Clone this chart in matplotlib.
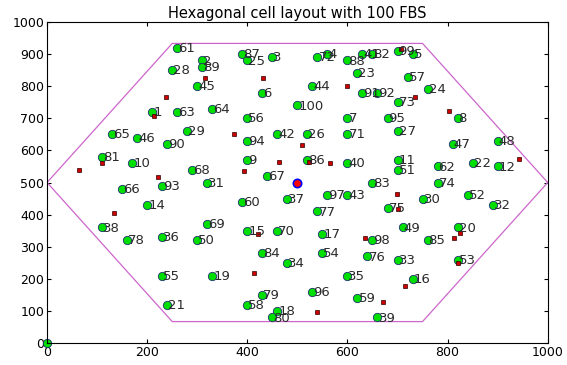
import numpy as np
import matplotlib
matplotlib.use('Agg')
import matplotlib.pyplot as plt

# femto base stations (green)
fbs_id = [61, 87, 25, 3, 72, 4, 88, 41, 82, 99, 5, 2, 89, 28, 23, 57, 45, 6, 44, 91,
          92, 24, 73, 100, 1, 63, 64, 56, 7, 95, 8, 29, 27, 65, 46, 42, 26, 71, 94, 48,
          90, 47, 81, 9, 86, 11, 10, 40, 68, 51, 62, 22, 12, 31, 67, 93, 83, 74, 66, 97,
          43, 37, 60, 30, 52, 14, 77, 75, 32, 69, 38, 49, 20, 15, 70, 17, 36, 78, 50, 98,
          85, 84, 54, 76, 33, 53, 34, 55, 19, 35, 16, 96, 79, 59, 21, 58, 18, 80, 39]
fbs_x = [260, 390, 400, 450, 540, 560, 600, 630, 650, 700, 730, 310, 310, 250, 620, 720, 300, 430, 530, 630,
         660, 760, 700, 500, 210, 260, 330, 400, 600, 680, 820, 280, 700, 130, 180, 460, 520, 600, 400, 900,
         240, 810, 110, 400, 520, 700, 170, 600, 290, 700, 780, 850, 900, 320, 440, 230, 650, 780, 150, 560,
         600, 480, 390, 750, 840, 200, 540, 680, 890, 320, 110, 710, 820, 400, 460, 550, 230, 160, 300, 650,
         760, 430, 550, 640, 700, 820, 480, 230, 330, 600, 730, 530, 430, 620, 240, 400, 460, 450, 660]
fbs_y = [920, 900, 880, 890, 890, 900, 880, 900, 900, 910, 900, 880, 860, 850, 840, 830, 800, 780, 800, 780,
         780, 790, 750, 740, 720, 720, 730, 700, 700, 700, 700, 660, 660, 650, 640, 650, 650, 650, 630, 630,
         620, 620, 580, 570, 570, 570, 560, 560, 540, 540, 550, 560, 550, 500, 520, 490, 500, 500, 480, 460,
         460, 450, 440, 450, 460, 430, 410, 420, 430, 370, 360, 360, 360, 350, 350, 340, 330, 320, 320, 320,
         320, 280, 280, 270, 260, 260, 250, 210, 210, 210, 200, 160, 150, 140, 120, 120, 100, 80, 80]

# users (red squares)
ue_x = [707, 315, 432, 238, 600, 734, 802, 213, 373, 509, 64, 110, 222, 394, 464,
        523, 565, 942, 698, 701, 133, 422, 635, 812, 825, 820, 414, 714, 671, 539]
ue_y = [915, 826, 824, 765, 799, 765, 722, 706, 650, 618, 540, 560, 517, 535, 565,
        565, 560, 574, 464, 417, 406, 340, 326, 326, 343, 248, 217, 177, 127, 96]

# macro BS and cell
mbs_x, mbs_y = [500], [500]
cell_radius = 500

fig = plt.figure(figsize=(5.67, 3.65), dpi=100)
ax = fig.add_axes([0.083, 0.060, 0.883, 0.880])

ang = np.deg2rad(np.arange(0, 361, 60))
ax.plot(mbs_x[0] + cell_radius * np.cos(ang), mbs_y[0] + cell_radius * np.sin(ang),
        color='#cc66cc', lw=0.9)

ax.plot(fbs_x, fbs_y, 'o', ms=6, mfc='#00e000', mec='#203070', mew=0.6)
ax.plot([0], [0], 'o', ms=6, mfc='#00e000', mec='#203070', mew=0.6, clip_on=False)
for i, x, y in zip(fbs_id, fbs_x, fbs_y):
    ax.text(x + 2, y - 2, str(i), fontsize=9.5, color='#2a2a2a', va='center', ha='left')

ax.plot(ue_x, ue_y, 's', ms=3.2, mfc='#cc0000', mec='#300000', mew=0.5)
ax.plot(mbs_x, mbs_y, 'o', ms=6, mfc='#ff0000', mec='#0000ff', mew=1.2)

ax.set_xlim(0, 1000)
ax.set_ylim(0, 1000)
ax.set_xticks(np.arange(0, 1001, 200))
ax.set_yticks(np.arange(0, 1001, 100))
ax.tick_params(direction='in', top=True, right=True, labelsize=9, length=3, pad=2)
ax.set_title('Hexagonal cell layout with 100 FBS', fontsize=10.5, pad=3)

fig.savefig('out.png', dpi=100)
